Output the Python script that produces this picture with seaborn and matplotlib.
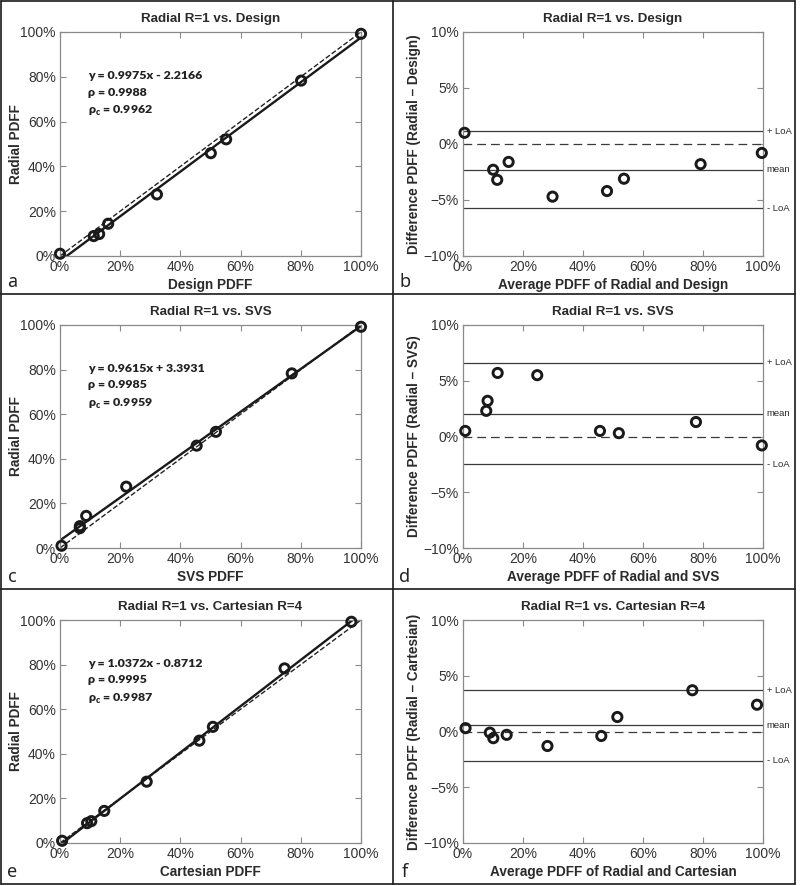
import numpy as np
import pandas as pd
import matplotlib
matplotlib.use("Agg")
import matplotlib.pyplot as plt
from matplotlib.lines import Line2D
from matplotlib.ticker import FuncFormatter
import seaborn as sns

radial = [1.0, 8.9, 9.8, 14.4, 27.5, 45.9, 52.1, 78.3, 99.2]
design = [0.0, 11.2, 13.0, 16.0, 32.2, 50.1, 55.2, 80.1, 100.0]
svs = [0.5, 6.6, 6.6, 8.7, 22.0, 45.4, 51.8, 77.0, 100.0]
cartesian = [0.7, 9.0, 10.4, 14.7, 28.8, 46.3, 50.8, 74.6, 96.8]

references = ["Design", "SVS", "Cartesian"]
ref_titles = ["Radial R=1 vs. Design", "Radial R=1 vs. SVS", "Radial R=1 vs. Cartesian R=4"]
slopes = [0.9975, 0.9615, 1.0372]
intercepts = [-2.2166, 3.3931, -0.8712]
rhos = [0.9988, 0.9985, 0.9995]
rho_cs = [0.9962, 0.9959, 0.9987]
panel_letters = [["a", "b"], ["c", "d"], ["e", "f"]]

sns.set_theme(style="ticks")
plt.rcParams["font.family"] = ["Liberation Sans", "DejaVu Sans"]
plt.rcParams["axes.edgecolor"] = "#8a8a8a"
plt.rcParams["axes.linewidth"] = 0.9
plt.rcParams["xtick.color"] = "#8a8a8a"
plt.rcParams["ytick.color"] = "#8a8a8a"
plt.rcParams["xtick.labelcolor"] = "#333333"
plt.rcParams["ytick.labelcolor"] = "#333333"

W, H = 800, 886
fig = plt.figure(figsize=(W / 100, H / 100), dpi=100)

pct = FuncFormatter(lambda v, _: f"{v:g}%".replace("-", "\u2212"))
TXT = "#2a2a2a"

def axes_px(left, top, right, bottom):
    return fig.add_axes([left / W, 1 - bottom / H, (right - left) / W, (bottom - top) / H])

def style_axes(ax):
    ax.tick_params(direction="in", length=4, width=0.8, top=True, right=True,
                   labelsize=10, pad=3)
    ax.xaxis.set_major_formatter(pct)
    ax.yaxis.set_major_formatter(pct)
    for s in ax.spines.values():
        s.set_visible(True)

rows_top = [32, 325, 620]
rows_bottom = [256, 548, 843]
marker_kw = dict(marker="o", s=44, facecolor="none", edgecolor="#1a1a1a",
                 linewidth=2.1, clip_on=False, zorder=5)

for i, ref in enumerate(references):
    other = [design, svs, cartesian][i]
    df = pd.DataFrame({"ref": other, "radial": radial})
    df["avg"] = (df["ref"] + df["radial"]) / 2
    df["diff"] = df["radial"] - df["ref"]

    # --- correlation panel ---
    ax = axes_px(60, rows_top[i], 361, rows_bottom[i])
    xs = np.array([0.0, 100.0])
    sns.lineplot(x=xs, y=xs, ax=ax, color="#222222", lw=1.0, dashes=(7, 4), linestyle="--")
    sns.lineplot(x=xs, y=slopes[i] * xs + intercepts[i], ax=ax, color="#1a1a1a", lw=1.7)
    sns.scatterplot(data=df, x="ref", y="radial", ax=ax, **marker_kw)
    ax.set_xlim(0, 100)
    ax.set_ylim(0, 100)
    ax.set_xticks(range(0, 101, 20))
    ax.set_yticks(range(0, 101, 20))
    style_axes(ax)
    ax.set_title(ref_titles[i], fontsize=9.6, fontweight="bold", pad=7, color=TXT)
    ax.set_xlabel(f"{ref} PDFF", fontsize=9.8, fontweight="bold", labelpad=3, color=TXT)
    ax.set_ylabel("Radial PDFF", fontsize=9.8, fontweight="bold", color=TXT)
    ax.yaxis.set_label_coords(-0.123, 0.5)
    sign = "+" if intercepts[i] >= 0 else "-"
    txt = (f"y = {slopes[i]:.4f}x {sign} {abs(intercepts[i]):.4f}\n"
           f"\u03c1 = {rhos[i]:.4f}\n"
           f"\u03c1$_\\mathregular{{c}}$ = {rho_cs[i]:.4f}")
    ax.text(0.093, 0.83, txt, transform=ax.transAxes, ha="left", va="top",
            fontsize=8.9, fontweight="heavy", family=["Lato", "DejaVu Sans"],
            color="#222222", linespacing=1.62)

    # --- Bland-Altman panel ---
    bx = axes_px(463, rows_top[i], 763, rows_bottom[i])
    mean_d = df["diff"].mean()
    sd_d = df["diff"].std(ddof=1)
    levels = [mean_d + 1.96 * sd_d, mean_d, mean_d - 1.96 * sd_d]
    for lvl in levels:
        bx.axhline(lvl, color="#3a3a3a", lw=0.9)
    bx.axhline(0, color="#3a3a3a", lw=0.9, dashes=(7, 4))
    sns.scatterplot(data=df, x="avg", y="diff", ax=bx, **marker_kw)
    for lvl, lab in zip(levels, ["+ LoA", "mean", "- LoA"]):
        bx.text(1.012, lvl, lab, transform=bx.get_yaxis_transform(), ha="left",
                va="center", fontsize=6.8, color=TXT)
    bx.set_xlim(0, 100)
    bx.set_ylim(-10, 10)
    bx.set_xticks(range(0, 101, 20))
    bx.set_yticks([-10, -5, 0, 5, 10])
    style_axes(bx)
    bx.set_title(ref_titles[i], fontsize=9.6, fontweight="bold", pad=7, color=TXT)
    bx.set_xlabel(f"Average PDFF of Radial and {ref}", fontsize=9.8, fontweight="bold",
                  labelpad=3, color=TXT)
    bx.set_ylabel(f"Difference PDFF (Radial \u2013 {ref})", fontsize=9.8,
                  fontweight="bold", color=TXT)
    bx.yaxis.set_label_coords(-0.14, 0.5)

# panel letters
letter_y = [282, 577, 872]
for r in range(3):
    for c, lx in enumerate([12, 405]):
        fig.text(lx / W, 1 - letter_y[r] / H, panel_letters[r][c], fontsize=13,
                 family=["Noto Sans", "DejaVu Sans"], ha="center", va="center",
                 color="#222222")

# panel frames
def fig_line(x0, y0, x1, y1):
    fig.add_artist(Line2D([x0 / W, x1 / W], [1 - y0 / H, 1 - y1 / H],
                          color="#1a1a1a", lw=1.2, transform=fig.transFigure))

fig_line(1, 1, 795, 1)
fig_line(1, 884, 795, 884)
fig_line(1, 1, 1, 884)
fig_line(795, 1, 795, 884)
fig_line(393, 1, 393, 884)
fig_line(1, 294, 795, 294)
fig_line(1, 589, 795, 589)

fig.savefig("out.png", dpi=100)
